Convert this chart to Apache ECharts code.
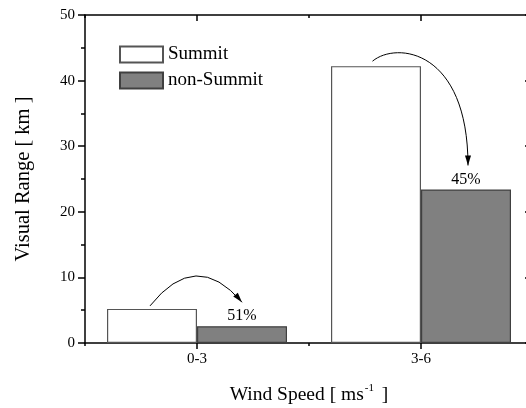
<!DOCTYPE html>
<html>
<head>
<meta charset="utf-8">
<script src="https://cdn.jsdelivr.net/npm/echarts@6/dist/echarts.min.js"></script>
<style>
  html, body { margin: 0; padding: 0; background: #fff; }
  #chart { width: 526px; height: 408px; }
</style>
</head>
<body>
<div id="chart"></div>
<script>
var categories = ['0-3', '3-6'];
var summitValues = [5.2, 42.2];
var nonSummitValues = [2.55, 23.4];
var dropLabels = ['51%', '45%'];
var yTicks = { min: 0, max: 50, interval: 10 };

var serif = 'Liberation Serif';
var barW = 90;

var chart = echarts.init(document.getElementById('chart'));

function catAxis(pos, opts) {
    var a = {
        type: 'category',
        position: pos,
        data: categories,
        axisLine: { show: opts.line, lineStyle: { color: '#000', width: 1.5 } },
        axisTick: {
            show: true,
            alignWithLabel: opts.align,
            inside: pos === 'top',
            length: opts.len,
            lineStyle: { color: '#000', width: 1.5 }
        },
        axisLabel: { show: false },
        splitLine: { show: false }
    };
    return a;
}

var xMain = catAxis('bottom', { line: true, align: true, len: 6 });
xMain.axisLabel = { show: true, color: '#000', fontFamily: serif, fontSize: 15, margin: 9 };
xMain.name = '{n|Wind Speed [ ms}{s|-1}{n| ]}';
xMain.nameLocation = 'middle';
xMain.nameGap = 40;
xMain.nameTextStyle = {
    rich: {
        n: { fontFamily: serif, fontSize: 19.5, color: '#000', lineHeight: 24 },
        s: { fontFamily: serif, fontSize: 11, color: '#000', verticalAlign: 'top', lineHeight: 24, padding: [0, 3, 0, 1] }
    }
};

var option = {
    backgroundColor: '#fff',
    animation: false,
    // plot area runs a little past the right edge of the canvas
    grid: { left: 85, top: 15, width: 448, height: 328, outerBoundsMode: 'none' },
    legend: {
        data: ['Summit', 'non-Summit'],
        orient: 'vertical',
        left: 114,
        top: 40,
        itemWidth: 43,
        itemHeight: 16,
        itemGap: 7,
        icon: 'rect',
        textStyle: { fontFamily: serif, fontSize: 19, color: '#000' }
    },
    xAxis: [
        xMain,
        catAxis('bottom', { line: false, align: false, len: 3 }),
        catAxis('top', { line: true, align: true, len: 6 }),
        catAxis('top', { line: false, align: false, len: 3 })
    ],
    yAxis: [
        {
            type: 'value',
            position: 'left',
            min: yTicks.min,
            max: yTicks.max,
            interval: yTicks.interval,
            name: 'Visual Range [ km ]',
            nameLocation: 'middle',
            nameGap: 51,
            nameTextStyle: { fontFamily: serif, fontSize: 20.5, color: '#000' },
            axisLine: { show: true, lineStyle: { color: '#000', width: 1.5 } },
            axisTick: { show: true, length: 7, lineStyle: { color: '#000', width: 1.5 } },
            minorTick: { show: true, splitNumber: 2, length: 4, lineStyle: { color: '#000', width: 1.5 } },
            axisLabel: { color: '#000', fontFamily: serif, fontSize: 15, margin: 10 },
            splitLine: { show: false }
        },
        {
            type: 'value',
            position: 'right',
            min: yTicks.min,
            max: yTicks.max,
            interval: yTicks.interval,
            axisLine: { show: true, lineStyle: { color: '#000', width: 1.5 } },
            axisTick: { show: true, inside: true, length: 8, lineStyle: { color: '#000', width: 1.5 } },
            minorTick: { show: true, splitNumber: 2, length: 4, lineStyle: { color: '#000', width: 1.5 } },
            axisLabel: { show: false },
            splitLine: { show: false }
        }
    ],
    series: [
        {
            name: 'Summit',
            type: 'bar',
            barWidth: barW,
            barGap: '0%',
            data: summitValues,
            itemStyle: { color: '#fff', borderColor: '#555', borderWidth: 1.2 }
        },
        {
            name: 'non-Summit',
            type: 'bar',
            barWidth: barW,
            barGap: '0%',
            data: nonSummitValues,
            itemStyle: { color: '#808080', borderColor: '#404040', borderWidth: 1.2 },
            label: {
                show: true,
                position: 'top',
                distance: 2,
                fontFamily: serif,
                fontSize: 16,
                color: '#000',
                formatter: function (p) { return dropLabels[p.dataIndex]; }
            }
        }
    ]
};

chart.setOption(option);

// curved arrows from Summit bar top to non-Summit bar
function arrowHead(x, y, fromX, fromY) {
    var ang = Math.atan2(y - fromY, x - fromX);
    var L = 10, W = 3;
    var bx = x - L * Math.cos(ang), by = y - L * Math.sin(ang);
    var px = -Math.sin(ang) * W, py = Math.cos(ang) * W;
    return {
        type: 'polygon',
        shape: { points: [[x, y], [bx + px, by + py], [bx - px, by - py]] },
        style: { fill: '#000' },
        z: 100
    };
}

var elements = [];
categories.forEach(function (c, i) {
    var s = chart.convertToPixel({ xAxisIndex: 0, yAxisIndex: 0 }, [i, summitValues[i]]);
    var n = chart.convertToPixel({ xAxisIndex: 0, yAxisIndex: 0 }, [i, nonSummitValues[i]]);
    var sx = s[0] - barW / 2, nx = n[0] + barW / 2;
    var shape;
    if (i === 0) {
        var x1 = sx - 2, y1 = s[1] - 3, x2 = nx, y2 = n[1] - 24;
        shape = { x1: x1, y1: y1, x2: x2, y2: y2, cpx1: x1 + 46, cpy1: y1 - 58 };
        elements.push(arrowHead(x2, y2, shape.cpx1, shape.cpy1));
    } else {
        var x1 = sx - 3.5, y1 = s[1] - 5, x2 = nx + 2, y2 = n[1] - 24;
        shape = { x1: x1, y1: y1, x2: x2, y2: y2, cpx1: x1 + 24, cpy1: y1 - 20, cpx2: x2, cpy2: y2 - 116 };
        elements.push(arrowHead(x2, y2, shape.cpx2, shape.cpy2));
    }
    elements.push({
        type: 'bezierCurve',
        shape: shape,
        style: { stroke: '#000', lineWidth: 1, fill: null },
        z: 100
    });
});

chart.setOption({ graphic: elements });
</script>
</body>
</html>
